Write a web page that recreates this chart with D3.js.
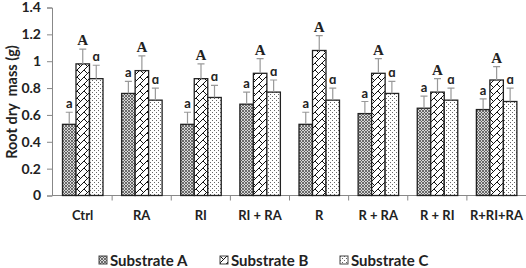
<!DOCTYPE html>
<html>
<head>
<meta charset="utf-8">
<script src="https://cdn.jsdelivr.net/npm/d3@7"></script>
<style>
  body { margin: 0; background: #fff; }
  svg text { font-family: Lato, "Open Sans", sans-serif; font-weight: bold; fill: #222; }
</style>
</head>
<body>
<svg id="chart" width="526" height="268"></svg>
<script>
var categories = ["Ctrl", "RA", "RI", "RI + RA", "R", "R + RA", "R + RI", "R+RI+RA"];
var seriesNames = ["Substrate A", "Substrate B", "Substrate C"];
var substrateA = [0.53, 0.76, 0.53, 0.68, 0.53, 0.61, 0.65, 0.64];
var substrateB = [0.98, 0.93, 0.87, 0.91, 1.08, 0.91, 0.77, 0.86];
var substrateC = [0.87, 0.71, 0.73, 0.77, 0.71, 0.76, 0.71, 0.70];
var errA = [0.09, 0.09, 0.09, 0.09, 0.09, 0.09, 0.09, 0.08];
var errB = [0.11, 0.11, 0.11, 0.11, 0.11, 0.11, 0.10, 0.10];
var errC = [0.10, 0.09, 0.09, 0.09, 0.09, 0.09, 0.09, 0.10];
var letters = ["a", "A", "\u0251"];
var yTicks = [0, 0.2, 0.4, 0.6, 0.8, 1, 1.2, 1.4];

var svg = d3.select("#chart");
var values = [substrateA, substrateB, substrateC];
var errors = [errA, errB, errC];

var x = d3.scaleBand().domain(categories).range([53, 526]).paddingInner(0).paddingOuter(0);
var xs = d3.scaleBand().domain(seriesNames).range([9.5, 50]);
var y = d3.scaleLinear().domain([0, 1.4]).range([195.5, 7.5]);

// fill patterns
var defs = svg.append("defs");
var pA = defs.append("pattern").attr("id", "pA").attr("width", 3).attr("height", 3)
  .attr("patternUnits", "userSpaceOnUse");
pA.append("rect").attr("width", 3).attr("height", 3).attr("fill", "#d8d8d8");
pA.append("path").attr("d", "M0,0L3,3M3,0L0,3").attr("stroke", "#505050").attr("stroke-width", 0.8);

var pB = defs.append("pattern").attr("id", "pB").attr("width", 7).attr("height", 7)
  .attr("patternUnits", "userSpaceOnUse");
pB.append("rect").attr("width", 7).attr("height", 7).attr("fill", "#fff");
pB.append("path").attr("d", "M-1,8L8,-1M0,0L3.5,3.5M3.5,7L7,10.5M3.5,-3.5L7,0")
  .attr("stroke", "#111").attr("stroke-width", 1).attr("fill", "none");

var pC = defs.append("pattern").attr("id", "pC").attr("width", 4).attr("height", 4)
  .attr("patternUnits", "userSpaceOnUse");
pC.append("rect").attr("width", 4).attr("height", 4).attr("fill", "#fff");
pC.append("rect").attr("x", 0).attr("y", 0).attr("width", 1).attr("height", 1).attr("fill", "#666");
pC.append("rect").attr("x", 2).attr("y", 2).attr("width", 1).attr("height", 1).attr("fill", "#666");
var fills = ["url(#pA)", "url(#pB)", "url(#pC)"];

// y axis
var yAxis = svg.append("g").attr("transform", "translate(52,0)")
  .call(d3.axisLeft(y).tickValues(yTicks).tickSize(5).tickFormat(function(d) { return d; }));
yAxis.select(".domain").attr("stroke", "#888");
yAxis.selectAll(".tick line").attr("stroke", "#888");
yAxis.selectAll("text").attr("font-size", 14).attr("dx", -3);

// x axis
var xAxis = svg.append("g").attr("transform", "translate(0,195.5)")
  .call(d3.axisBottom(x).tickSize(0).tickPadding(15));
xAxis.select(".domain").attr("stroke", "#888").attr("d", "M52,0H526");
xAxis.selectAll("text").attr("font-size", 13);
svg.append("g").selectAll("line").data(categories.slice(1)).join("line")
  .attr("x1", function(d) { return x(d); }).attr("x2", function(d) { return x(d); })
  .attr("y1", 195.5).attr("y2", 200.5).attr("stroke", "#888");

// bars
seriesNames.forEach(function(s, si) {
  var g = svg.append("g");
  g.selectAll("rect").data(categories).join("rect")
    .attr("x", function(d) { return x(d) + xs(s); })
    .attr("y", function(d, i) { return y(values[si][i]); })
    .attr("width", xs.bandwidth())
    .attr("height", function(d, i) { return y(0) - y(values[si][i]); })
    .attr("fill", fills[si]).attr("stroke", "#222").attr("stroke-width", 1.3);

  // error bars (upper only)
  g.selectAll("path.err").data(categories).join("path").attr("class", "err")
    .attr("d", function(d, i) {
      var cx = x(d) + xs(s) + xs.bandwidth() / 2;
      var top = y(values[si][i] + errors[si][i]);
      return "M" + cx + "," + y(values[si][i]) + "V" + top + "M" + (cx - 3.5) + "," + top + "H" + (cx + 3.5);
    })
    .attr("stroke", "#999").attr("stroke-width", 1.2).attr("fill", "none");

  g.selectAll("text").data(categories).join("text")
    .attr("x", function(d) { return x(d) + xs(s) + xs.bandwidth() / 2; })
    .attr("y", function(d, i) { return y(values[si][i] + errors[si][i]) - 4; })
    .attr("text-anchor", "middle")
    .attr("font-size", si === 1 ? 15 : 13)
    .style("font-family", si === 1 ? "'Liberation Serif', 'DejaVu Serif', serif" : null)
    .text(letters[si]);
});

// y label
svg.append("text")
  .attr("transform", "translate(17,102) rotate(-90)")
  .attr("text-anchor", "middle").attr("font-size", 14.5)
  .style("white-space", "pre")
  .text("Root dry  mass (g)");

// legend
var legendX = [99, 220, 340];
var legend = svg.append("g").selectAll("g").data(seriesNames).join("g")
  .attr("transform", function(d, i) { return "translate(" + legendX[i] + ",256)"; });
legend.append("rect").attr("width", 8).attr("height", 8)
  .attr("fill", function(d, i) { return fills[i]; }).attr("stroke", "#444").attr("stroke-width", 1);
legend.append("text").attr("x", 11).attr("y", 9.5).attr("font-size", 15)
  .text(function(d) { return d; });
</script>
</body>
</html>
